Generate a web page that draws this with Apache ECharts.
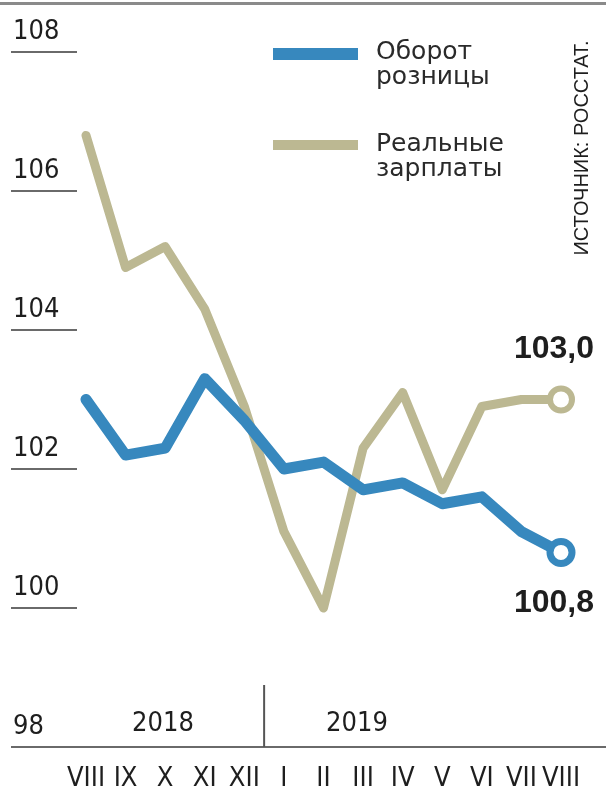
<!DOCTYPE html>
<html><head><meta charset="utf-8">
<script src="https://cdn.jsdelivr.net/npm/echarts@6/dist/echarts.min.js"></script>
<style>html,body{margin:0;padding:0;background:#fff}#c{width:606px;height:801px}</style>
</head><body><div id="c"></div>
<script>
// ---- data ----
const months = ['VIII','IX','X','XI','XII','I','II','III','IV','V','VI','VII','VIII'];
const retail = [103.0, 102.2, 102.3, 103.3, 102.7, 102.0, 102.1, 101.7, 101.8, 101.5, 101.6, 101.1, 100.8];
const wages  = [106.8, 104.9, 105.2, 104.3, 102.9, 101.1, 100.0, 102.3, 103.1, 101.7, 102.9, 103.0, 103.0];
const seriesNames = ['Оборот розницы', 'Реальные зарплаты'];
const legendLines = [['Оборот', 'розницы'], ['Реальные', 'зарплаты']];
const years = ['2018', '2019'];
const yMin = 98, yMax = 108, yStep = 2;
const sourceText = 'ИСТОЧНИК: РОССТАТ.';

// ---- style ----
const BLUE = '#3788be', BEIGE = '#bcb892', INK = '#1e1e1e', RULE = '#6a6a6a';
const NARROW = '"Liberation Sans Narrow", "DejaVu Sans Condensed", sans-serif';
const fmt = v => v.toFixed(1).replace('.', ',');

const chart = echarts.init(document.getElementById('c'), null, {renderer: 'canvas'});

function endPoint(arr, color, bw, pos) {
  return arr.map((v, i) => i === arr.length - 1 ? {
    value: v, symbol: 'circle', symbolSize: 22,
    itemStyle: {color: '#fff', borderColor: color, borderWidth: bw},
    label: {show: true, position: pos, distance: 20, offset: [-7, 0],
      formatter: p => fmt(p.value), fontSize: 32, fontWeight: 'bold',
      color: INK, fontFamily: '"Liberation Sans", Arial, sans-serif'}
  } : v);
}

chart.setOption({
  animation: false,
  backgroundColor: '#fff',
  grid: {left: 86, right: 45, top: 52, bottom: 54},
  xAxis: {
    type: 'category', data: months, boundaryGap: false,
    axisLine: {show: false}, axisTick: {show: false},
    axisLabel: {interval: 0, margin: 18, fontSize: 27, color: INK, fontFamily: NARROW}
  },
  yAxis: {
    type: 'value', min: yMin, max: yMax, interval: yStep, offset: 9,
    axisLine: {show: false}, splitLine: {show: false},
    axisTick: {show: true, length: 66, lineStyle: {color: RULE, width: 2}},
    axisLabel: {align: 'left', margin: 64, verticalAlign: 'bottom', padding: [0, 0, 7, 0],
      fontSize: 27, color: INK, fontFamily: NARROW}
  },
  series: [
    {type: 'line', name: seriesNames[1], data: endPoint(wages, BEIGE, 6, 'top'),
     symbol: 'none', z: 2,
     lineStyle: {color: BEIGE, width: 9, join: 'round', cap: 'round'}, itemStyle: {color: BEIGE}},
    {type: 'line', name: seriesNames[0], data: endPoint(retail, BLUE, 7, 'bottom'),
     symbol: 'none', z: 3,
     lineStyle: {color: BLUE, width: 11, join: 'round', cap: 'round'}, itemStyle: {color: BLUE}}
  ]
});

// ---- annotations (positions from the axes) ----
const y98 = chart.convertToPixel({yAxisIndex: 0}, yMin);
const xDiv = (chart.convertToPixel({xAxisIndex: 0}, 4) + chart.convertToPixel({xAxisIndex: 0}, 5)) / 2;
const legendColors = [BLUE, BEIGE];
const legendTops = [48, 140];
const g = [
  {type: 'rect', shape: {x: 0, y: 2, width: 606, height: 3}, style: {fill: '#8a8a8a'}},
  {type: 'line', shape: {x1: 11, y1: y98, x2: 606, y2: y98}, style: {stroke: RULE, lineWidth: 2}},
  {type: 'line', shape: {x1: xDiv, y1: 685, x2: xDiv, y2: y98}, style: {stroke: '#555', lineWidth: 2}},
  {type: 'text', x: 163, y: 724, style: {text: years[0], align: 'center', verticalAlign: 'middle',
    fontSize: 27, fill: INK, fontFamily: NARROW}},
  {type: 'text', x: 357, y: 724, style: {text: years[1], align: 'center', verticalAlign: 'middle',
    fontSize: 27, fill: INK, fontFamily: NARROW}},
  {type: 'text', x: 582, y: 148, rotation: Math.PI / 2, style: {text: sourceText, align: 'center',
    verticalAlign: 'middle', fontSize: 20, fill: INK, fontFamily: '"Liberation Sans", Arial, sans-serif'}}
];
legendLines.forEach((lines, k) => {
  g.push({type: 'rect', shape: {x: 273, y: legendTops[k], width: 85, height: k === 0 ? 12 : 10},
    style: {fill: legendColors[k]}});
  g.push({type: 'text', x: 376, y: legendTops[k] - 8, style: {text: lines.join('\n'),
    verticalAlign: 'top', lineHeight: 25, fontSize: 25, fill: '#2a2a2a',
    fontFamily: '"DejaVu Sans", sans-serif'}});
});
chart.setOption({graphic: g});
</script>
</body></html>
